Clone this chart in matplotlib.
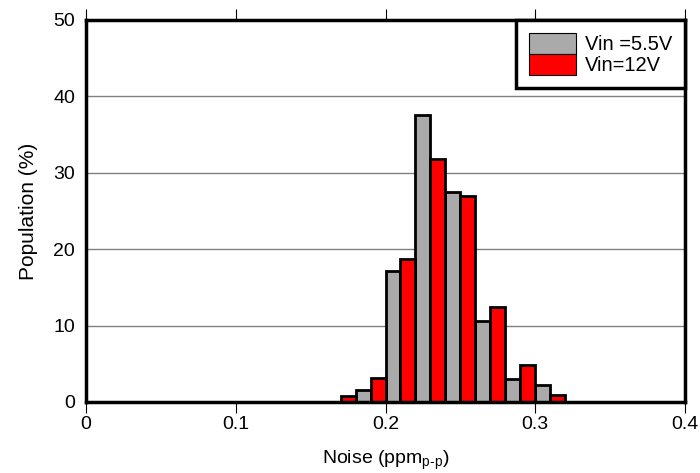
import numpy as np
import matplotlib
matplotlib.use('Agg')
import matplotlib.pyplot as plt

plt.rcParams['font.family'] = ['Liberation Sans', 'DejaVu Sans']

# bin left edges (ppm p-p) and population (%)
gray_x = [0.18, 0.20, 0.22, 0.24, 0.26, 0.28, 0.30]
gray_y = [1.6, 17.2, 37.6, 27.5, 10.6, 3.0, 2.2]
red_x = [0.17, 0.19, 0.21, 0.23, 0.25, 0.27, 0.29, 0.31]
red_y = [0.8, 3.2, 18.7, 31.8, 27.0, 12.5, 4.8, 0.9]
labels = ['Vin =5.5V', 'Vin=12V']

fig = plt.figure(figsize=(7, 4.73), dpi=100)
ax = fig.add_axes([86 / 700, 1 - 402 / 473, 599 / 700, 382 / 473])

for yv in [10, 20, 30, 40]:
    ax.axhline(yv, color='#808080', lw=1.0, zorder=0)

ax.bar(gray_x, gray_y, width=0.01, align='edge', color='#aaaaaa',
       edgecolor='black', linewidth=2.0, label=labels[0], zorder=2)
ax.bar(red_x, red_y, width=0.01, align='edge', color='#ff0000',
       edgecolor='black', linewidth=2.0, label=labels[1], zorder=2)

ax.set_xlim(0, 0.4)
ax.set_ylim(0, 50)
ax.set_xticks(np.arange(0, 0.41, 0.1))
ax.set_xticklabels(['0', '0.1', '0.2', '0.3', '0.4'])
ax.set_yticks(np.arange(0, 51, 10))
ax.tick_params(axis='x', direction='out', length=8, width=0.8, top=True,
               labelsize=14, pad=2)
ax.tick_params(axis='y', length=0, labelsize=14, pad=8)
for s in ax.spines.values():
    s.set_linewidth(2.5)
    s.set_zorder(5)

ax.set_xlabel('Noise (ppm$_{\\mathregular{p\u2010p}}$)', fontsize=14, labelpad=11)
ax.set_ylabel('Population (%)', fontsize=15, labelpad=11)

leg = ax.legend(loc='upper right', bbox_to_anchor=(1.0, 1.0), fontsize=14.5,
                fancybox=False, framealpha=1, edgecolor='black',
                borderaxespad=0, handlelength=2.3, handleheight=1.2,
                handletextpad=0.45, labelspacing=0.0, borderpad=0.65)
leg.get_frame().set_linewidth(2.5)
for h in leg.legend_handles:
    h.set_linewidth(0.8)

plt.savefig('out.png', dpi=100)
